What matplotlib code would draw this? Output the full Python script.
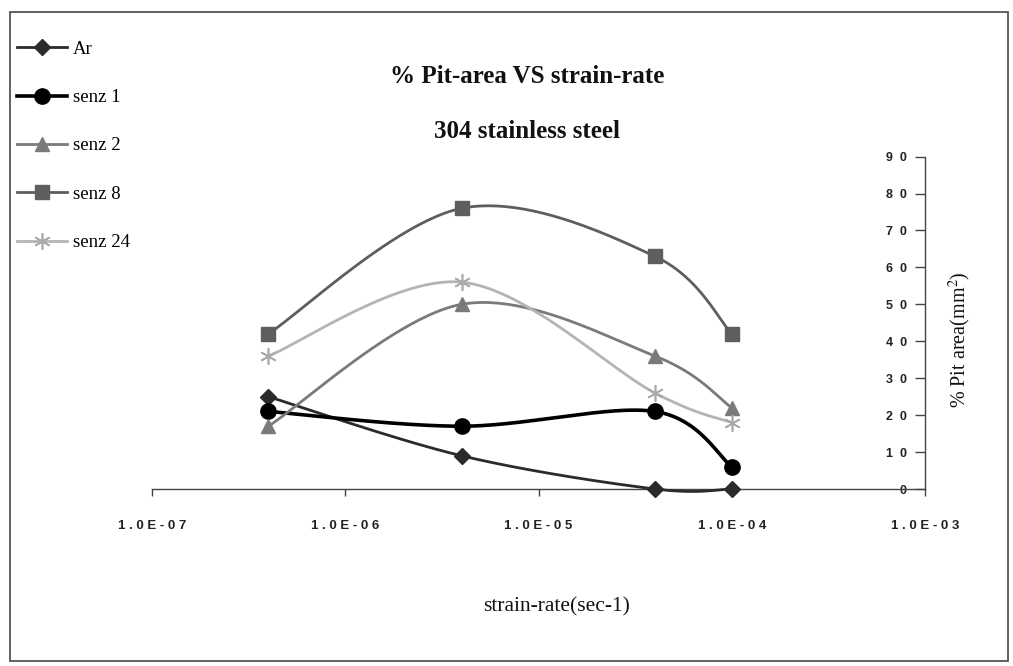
import numpy as np
import matplotlib
matplotlib.use("Agg")
import matplotlib.pyplot as plt
from matplotlib.lines import Line2D
from matplotlib.patches import Rectangle
from matplotlib.ticker import NullLocator, FixedLocator, FixedFormatter

# ---- data -------------------------------------------------------------
strain_rate = [4e-7, 4e-6, 4e-5, 1e-4]
series_names = ["Ar", "senz 1", "senz 2", "senz 8", "senz 24"]
ar = [25, 9, 0, 0]
senz1 = [21, 17, 21, 6]
senz2 = [17, 50, 36, 22]
senz8 = [42, 76, 63, 42]
senz24 = [36, 56, 26, 18]
x_ticks = [1e-7, 1e-6, 1e-5, 1e-4, 1e-3]
x_tick_labels = ["1.0E-07", "1.0E-06", "1.0E-05", "1.0E-04", "1.0E-03"]
y_ticks = [0, 10, 20, 30, 40, 50, 60, 70, 80, 90]

SERIF = "Liberation Serif"
SANS = "Liberation Sans"

W, H, DPI = 1013, 666, 100
fig = plt.figure(figsize=(W / DPI, H / DPI), dpi=DPI)


def fx(px):
    return px / W


def fy(py):
    return 1 - py / H


# page frame
fig.patches.append(Rectangle((fx(10), fy(661)), fx(998), 649 / H,
                             transform=fig.transFigure, fill=False,
                             edgecolor="#555555", lw=1.3))

ax = fig.add_axes([fx(152), fy(489), fx(925 - 152), 332.4 / H])
ax.set_xscale("log")
ax.set_xlim(1e-7, 1e-3)
ax.set_ylim(0, 90)
ax.patch.set_alpha(0)

# value axis sits at the right end of the category axis
ax.spines["top"].set_visible(False)
ax.spines["right"].set_visible(False)
ax.spines["left"].set_position(("axes", 1.0))
for s in ("left", "bottom"):
    ax.spines[s].set_color("#444444")
    ax.spines[s].set_linewidth(1.0)

ax.xaxis.set_major_locator(FixedLocator(x_ticks))
ax.xaxis.set_minor_locator(NullLocator())
ax.xaxis.set_major_formatter(FixedFormatter([" ".join(t) for t in x_tick_labels]))
ax.yaxis.set_major_locator(FixedLocator(y_ticks))
ax.yaxis.set_major_formatter(FixedFormatter(["  ".join(str(v)) for v in y_ticks]))
ax.tick_params(axis="x", direction="out", length=5, width=1, color="#444444",
               pad=17, labelsize=9.5, labelcolor="#222222")
ax.tick_params(axis="y", direction="out", length=7, width=1, color="#444444",
               pad=6, labelsize=9, labelcolor="#222222")
for lab in ax.get_xticklabels() + ax.get_yticklabels():
    lab.set_fontfamily(SANS)
    lab.set_fontweight("bold")


def smooth(xs, ys, n=50):
    """Excel-style smoothed line: Catmull-Rom Bezier in display space."""
    pts = ax.transData.transform(np.column_stack([xs, ys]))
    P = np.vstack([pts[0], pts, pts[-1]])
    t = np.linspace(0, 1, n)[:, None]
    out = []
    for i in range(1, len(P) - 2):
        p0, p1, p2, p3 = P[i - 1], P[i], P[i + 1], P[i + 2]
        c1 = p1 + (p2 - p0) / 6
        c2 = p2 - (p3 - p1) / 6
        seg = ((1 - t) ** 3) * p1 + 3 * ((1 - t) ** 2) * t * c1 \
            + 3 * (1 - t) * t ** 2 * c2 + t ** 3 * p2
        out.append(seg if i == 1 else seg[1:])
    out = np.vstack(out)
    inv = ax.transData.inverted().transform(out)
    return inv[:, 0], inv[:, 1]


styles = [
    (ar, dict(color="#2b2b2b", lw=2.0, marker="D", ms=8.5, mfc="#2b2b2b", mec="#2b2b2b")),
    (senz1, dict(color="#000000", lw=2.6, marker="o", ms=11, mfc="#000000", mec="#000000")),
    (senz2, dict(color="#7a7a7a", lw=2.0, marker="^", ms=10, mfc="#7a7a7a", mec="#7a7a7a")),
    (senz8, dict(color="#5e5e5e", lw=2.0, marker="s", ms=10, mfc="#5e5e5e", mec="#5e5e5e")),
    (senz24, dict(color="#b4b4b4", lw=2.0, marker=(6, 2, 0), ms=12, mfc="#b4b4b4",
                  mec="#aaaaaa", mew=1.2)),
]

handles = []
for (vals, st), name in zip(styles, series_names):
    sx, sy = smooth(strain_rate, vals)
    ax.plot(sx, sy, color=st["color"], lw=st["lw"], clip_on=False, zorder=3,
            solid_capstyle="round")
    ax.plot(strain_rate, vals, ls="none", marker=st["marker"], ms=st["ms"],
            mfc=st["mfc"], mec=st["mec"], mew=st.get("mew", 1.0),
            clip_on=False, zorder=4)
    handles.append(Line2D([], [], color=st["color"], lw=st["lw"], marker=st["marker"],
                          ms=st["ms"], mfc=st["mfc"], mec=st["mec"],
                          mew=st.get("mew", 1.0), label=name))

fig.legend(handles=handles, loc="upper left", bbox_to_anchor=(fx(9), fy(33)),
           frameon=False, prop={"family": SERIF, "size": 13.5},
           handlelength=2.7, handletextpad=0.3, labelspacing=1.67, borderaxespad=0)

fig.text(fx(527), fy(83), "% Pit-area VS strain-rate", ha="center", va="baseline",
         family=SERIF, weight="bold", fontsize=18, color="#111111")
fig.text(fx(527), fy(138), "304 stainless steel", ha="center", va="baseline",
         family=SERIF, weight="bold", fontsize=18, color="#111111")
fig.text(fx(557), fy(607), "strain-rate(sec-1)", ha="center", va="center",
         family=SERIF, fontsize=15.5, color="#111111")
fig.text(fx(960), fy(340), "% Pit area(mm$^{2}$)", ha="center", va="center",
         rotation=90, family=SERIF, fontsize=14.5, color="#111111",
         math_fontfamily="stix")

fig.savefig("out.png", dpi=DPI)
